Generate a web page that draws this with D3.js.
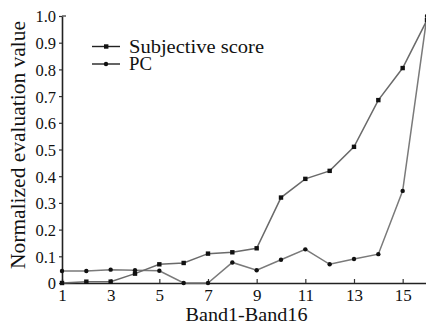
<!DOCTYPE html>
<html>
<head>
<meta charset="utf-8">
<script src="https://cdn.jsdelivr.net/npm/d3@7"></script>
<style>
    body { margin: 0; background: #fff; }
</style>
</head>
<body>
<div id="chart"></div>
<script>

var bands = [1, 2, 3, 4, 5, 6, 7, 8, 9, 10, 11, 12, 13, 14, 15, 16];
var subjective = [0, 0.005, 0.005, 0.035, 0.07, 0.075, 0.11, 0.115, 0.13, 0.32, 0.39, 0.42, 0.51, 0.685, 0.805, 0.985];
var pc = [0.045, 0.045, 0.05, 0.048, 0.046, 0, 0, 0.077, 0.048, 0.087, 0.126, 0.07, 0.09, 0.108, 0.345, 1.0];
var xTicks = [1, 3, 5, 7, 9, 11, 13, 15];
var yTicks = [0, 0.1, 0.2, 0.3, 0.4, 0.5, 0.6, 0.7, 0.8, 0.9, 1.0];

var FONT = "'Liberation Serif', 'DejaVu Serif', 'Times New Roman', serif";

var W = 426, H = 326;
var margin = { top: 16, right: -1, bottom: 43, left: 62 };

var svg = d3.select("#chart").append("svg")
    .attr("width", W)
    .attr("height", H);

var x = d3.scaleLinear().domain([1, 16]).range([margin.left, W - margin.right]);
var y = d3.scaleLinear().domain([0, 1]).range([H - margin.bottom, margin.top]);

// axes
var xAxis = d3.axisBottom(x).tickValues(xTicks).tickSizeInner(-4).tickSizeOuter(0).tickPadding(6);
var yAxis = d3.axisLeft(y).tickValues(yTicks).tickSizeInner(3).tickSizeOuter(0).tickPadding(3)
    .tickFormat(function (d) { return d === 0 ? "0" : d.toFixed(1); });

var gx = svg.append("g")
    .attr("transform", "translate(0," + y(0) + ")")
    .call(xAxis)
    .attr("font-family", FONT);
gx.select(".domain").attr("stroke", "#222").attr("stroke-width", 1.6);
gx.selectAll(".tick line").attr("stroke", "#333").attr("stroke-width", 1.2);
gx.selectAll("text").style("font-family", FONT).style("font-size", "17px").attr("fill", "#111");

var gy = svg.append("g")
    .attr("transform", "translate(" + x(1) + ",0)")
    .call(yAxis)
    .attr("font-family", FONT);
gy.select(".domain").attr("stroke", "#222").attr("stroke-width", 1.6);
gy.selectAll(".tick line").attr("stroke", "#333").attr("stroke-width", 1.2);
gy.selectAll("text").style("font-family", FONT).style("font-size", "16.5px").attr("dy", "0.36em").attr("fill", "#111");

// small cap at the top of y axis
svg.append("line")
    .attr("x1", x(1)).attr("x2", x(1) + 4)
    .attr("y1", y(1)).attr("y2", y(1))
    .attr("stroke", "#333").attr("stroke-width", 1.2);

// lines
var line = function (vals) {
    return d3.line()
        .x(function (d, i) { return x(bands[i]); })
        .y(function (d) { return y(d); })(vals);
};

svg.append("path")
    .attr("d", line(pc))
    .attr("fill", "none")
    .attr("stroke", "#7a7a7a")
    .attr("stroke-width", 1.5);

svg.append("path")
    .attr("d", line(subjective))
    .attr("fill", "none")
    .attr("stroke", "#6a6a6a")
    .attr("stroke-width", 1.5);

// markers
svg.selectAll("rect.sq")
    .data(subjective)
    .enter().append("rect")
    .attr("class", "sq")
    .attr("x", function (d, i) { return x(bands[i]) - 2.2; })
    .attr("y", function (d) { return y(d) - 2.2; })
    .attr("width", 4.4)
    .attr("height", 4.4)
    .attr("fill", "#111");

svg.selectAll("circle.pt")
    .data(pc)
    .enter().append("circle")
    .attr("class", "pt")
    .attr("cx", function (d, i) { return x(bands[i]); })
    .attr("cy", function (d) { return y(d); })
    .attr("r", 2.2)
    .attr("fill", "#111");

// legend
var legend = [
    { name: "Subjective score", shape: "square", len: 135 },
    { name: "PC", shape: "circle", len: 23 }
];
legend.forEach(function (l, i) {
    var ly = 46.5 + i * 17.5;
    svg.append("line")
        .attr("x1", 92).attr("x2", 120)
        .attr("y1", ly).attr("y2", ly)
        .attr("stroke", "#222").attr("stroke-width", 1.4);
    if (l.shape == "square") {
        svg.append("rect").attr("x", 104).attr("y", ly - 2.2).attr("width", 4.4).attr("height", 4.4).attr("fill", "#111");
    } else {
        svg.append("circle").attr("cx", 106).attr("cy", ly).attr("r", 2.2).attr("fill", "#111");
    }
    svg.append("text")
        .attr("x", 129).attr("y", ly + 6)
        .style("font-family", FONT)
        .style("font-size", "18px")
        .attr("textLength", l.len)
        .attr("lengthAdjust", "spacingAndGlyphs")
        .attr("fill", "#111")
        .text(l.name);
});

// axis titles
svg.append("text")
    .attr("x", (x(1) + x(16)) / 2 + 2)
    .attr("y", 321)
    .attr("text-anchor", "middle")
    .style("font-family", FONT)
    .style("font-size", "18px")
    .attr("textLength", 122)
    .attr("lengthAdjust", "spacingAndGlyphs")
    .attr("fill", "#111")
    .text("Band1-Band16");

svg.append("text")
    .attr("transform", "translate(25," + 145 + ") rotate(-90)")
    .attr("text-anchor", "middle")
    .style("font-family", FONT)
    .style("font-size", "20px")
    .attr("textLength", 248)
    .attr("lengthAdjust", "spacingAndGlyphs")
    .attr("fill", "#111")
    .text("Normalized evaluation value");

</script>
</body>
</html>
